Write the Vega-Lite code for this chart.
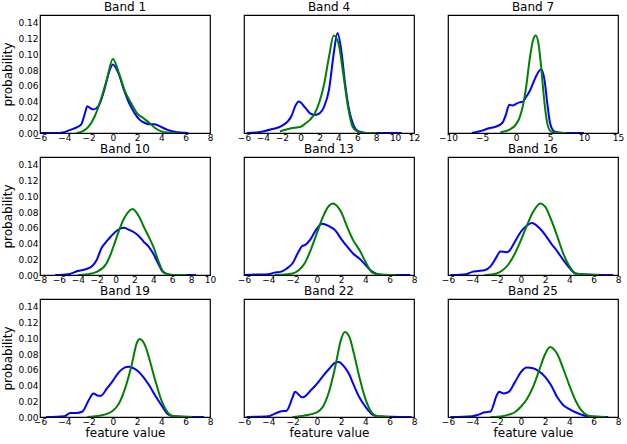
{
"$schema":"https://vega.github.io/schema/vega-lite/v6.json",
"padding":{"left":1,"top":0,"right":2,"bottom":2},
"background":"white",
"data":{"values":[
{"b":1,"g":"A","x":-6,"y":0},{"b":1,"g":"A","x":-4.5,"y":0},{"b":1,"g":"A","x":-4,"y":0.001},{"b":1,"g":"A","x":-3.5,"y":0.004},{"b":1,"g":"A","x":-3,"y":0.007},{"b":1,"g":"A","x":-2.6,"y":0.011},{"b":1,"g":"A","x":-2.3,"y":0.025},{"b":1,"g":"A","x":-2.1,"y":0.034},{"b":1,"g":"A","x":-1.8,"y":0.031},{"b":1,"g":"A","x":-1.6,"y":0.030},{"b":1,"g":"A","x":-1.2,"y":0.034},{"b":1,"g":"A","x":-0.7,"y":0.055},{"b":1,"g":"A","x":-0.3,"y":0.078},{"b":1,"g":"A","x":0,"y":0.087},{"b":1,"g":"A","x":0.4,"y":0.078},{"b":1,"g":"A","x":1,"y":0.051},{"b":1,"g":"A","x":1.4,"y":0.036},{"b":1,"g":"A","x":1.8,"y":0.025},{"b":1,"g":"A","x":2.2,"y":0.017},{"b":1,"g":"A","x":2.6,"y":0.013},{"b":1,"g":"A","x":3,"y":0.011},{"b":1,"g":"A","x":3.4,"y":0.011},{"b":1,"g":"A","x":3.8,"y":0.009},{"b":1,"g":"A","x":4.2,"y":0.006},{"b":1,"g":"A","x":4.5,"y":0.004},{"b":1,"g":"A","x":5,"y":0.002},{"b":1,"g":"A","x":5.5,"y":0.0005},{"b":1,"g":"A","x":6.2,"y":0},
{"b":1,"g":"B","x":-3,"y":0},{"b":1,"g":"B","x":-2.5,"y":0.002},{"b":1,"g":"B","x":-2,"y":0.008},{"b":1,"g":"B","x":-1.5,"y":0.021},{"b":1,"g":"B","x":-1,"y":0.042},{"b":1,"g":"B","x":-0.5,"y":0.068},{"b":1,"g":"B","x":0,"y":0.094},{"b":1,"g":"B","x":0.5,"y":0.076},{"b":1,"g":"B","x":1,"y":0.053},{"b":1,"g":"B","x":1.5,"y":0.038},{"b":1,"g":"B","x":2,"y":0.025},{"b":1,"g":"B","x":2.5,"y":0.019},{"b":1,"g":"B","x":3,"y":0.013},{"b":1,"g":"B","x":3.5,"y":0.006},{"b":1,"g":"B","x":4,"y":0.002},{"b":1,"g":"B","x":4.5,"y":0.0005},{"b":1,"g":"B","x":5.3,"y":0},
{"b":4,"g":"A","x":-5.7,"y":0},{"b":4,"g":"A","x":-4.5,"y":0.001},{"b":4,"g":"A","x":-4,"y":0.002},{"b":4,"g":"A","x":-3,"y":0.005},{"b":4,"g":"A","x":-2,"y":0.009},{"b":4,"g":"A","x":-1,"y":0.021},{"b":4,"g":"A","x":-0.5,"y":0.036},{"b":4,"g":"A","x":-0.2,"y":0.040},{"b":4,"g":"A","x":0.5,"y":0.032},{"b":4,"g":"A","x":1,"y":0.025},{"b":4,"g":"A","x":1.5,"y":0.023},{"b":4,"g":"A","x":2,"y":0.025},{"b":4,"g":"A","x":2.5,"y":0.034},{"b":4,"g":"A","x":3,"y":0.055},{"b":4,"g":"A","x":3.5,"y":0.101},{"b":4,"g":"A","x":3.9,"y":0.127},{"b":4,"g":"A","x":4.3,"y":0.105},{"b":4,"g":"A","x":4.7,"y":0.063},{"b":4,"g":"A","x":5,"y":0.038},{"b":4,"g":"A","x":5.5,"y":0.013},{"b":4,"g":"A","x":6,"y":0.003},{"b":4,"g":"A","x":6.5,"y":0.001},{"b":4,"g":"A","x":7,"y":0},{"b":4,"g":"A","x":10.7,"y":0},
{"b":4,"g":"B","x":-2.2,"y":0.002},{"b":4,"g":"B","x":-1,"y":0.006},{"b":4,"g":"B","x":0,"y":0.008},{"b":4,"g":"B","x":0.5,"y":0.012},{"b":4,"g":"B","x":1,"y":0.017},{"b":4,"g":"B","x":1.5,"y":0.025},{"b":4,"g":"B","x":2,"y":0.040},{"b":4,"g":"B","x":2.5,"y":0.063},{"b":4,"g":"B","x":3,"y":0.097},{"b":4,"g":"B","x":3.5,"y":0.124},{"b":4,"g":"B","x":4,"y":0.114},{"b":4,"g":"B","x":4.5,"y":0.076},{"b":4,"g":"B","x":5,"y":0.034},{"b":4,"g":"B","x":5.5,"y":0.008},{"b":4,"g":"B","x":6,"y":0.002},{"b":4,"g":"B","x":6.5,"y":0},{"b":4,"g":"B","x":8,"y":0},
{"b":7,"g":"A","x":-6.5,"y":0},{"b":7,"g":"A","x":-5,"y":0.003},{"b":7,"g":"A","x":-4,"y":0.006},{"b":7,"g":"A","x":-3,"y":0.008},{"b":7,"g":"A","x":-2,"y":0.013},{"b":7,"g":"A","x":-1.5,"y":0.023},{"b":7,"g":"A","x":-1,"y":0.036},{"b":7,"g":"A","x":-0.5,"y":0.035},{"b":7,"g":"A","x":0,"y":0.037},{"b":7,"g":"A","x":0.5,"y":0.039},{"b":7,"g":"A","x":1,"y":0.040},{"b":7,"g":"A","x":1.5,"y":0.046},{"b":7,"g":"A","x":2,"y":0.053},{"b":7,"g":"A","x":2.5,"y":0.063},{"b":7,"g":"A","x":3,"y":0.073},{"b":7,"g":"A","x":3.7,"y":0.081},{"b":7,"g":"A","x":4.2,"y":0.067},{"b":7,"g":"A","x":4.6,"y":0.038},{"b":7,"g":"A","x":5,"y":0.013},{"b":7,"g":"A","x":5.5,"y":0.003},{"b":7,"g":"A","x":6,"y":0.001},{"b":7,"g":"A","x":7,"y":0},{"b":7,"g":"A","x":10,"y":0},
{"b":7,"g":"B","x":-2.3,"y":0.001},{"b":7,"g":"B","x":-1,"y":0.004},{"b":7,"g":"B","x":0,"y":0.011},{"b":7,"g":"B","x":0.5,"y":0.019},{"b":7,"g":"B","x":1,"y":0.034},{"b":7,"g":"B","x":1.5,"y":0.059},{"b":7,"g":"B","x":2,"y":0.093},{"b":7,"g":"B","x":2.5,"y":0.118},{"b":7,"g":"B","x":2.9,"y":0.124},{"b":7,"g":"B","x":3.3,"y":0.114},{"b":7,"g":"B","x":3.7,"y":0.084},{"b":7,"g":"B","x":4.1,"y":0.046},{"b":7,"g":"B","x":4.5,"y":0.017},{"b":7,"g":"B","x":5,"y":0.003},{"b":7,"g":"B","x":5.5,"y":0.001},{"b":7,"g":"B","x":7.5,"y":0},
{"b":10,"g":"A","x":-6.4,"y":0},{"b":10,"g":"A","x":-5,"y":0.001},{"b":10,"g":"A","x":-4,"y":0.005},{"b":10,"g":"A","x":-3,"y":0.008},{"b":10,"g":"A","x":-2.5,"y":0.011},{"b":10,"g":"A","x":-2,"y":0.019},{"b":10,"g":"A","x":-1.5,"y":0.034},{"b":10,"g":"A","x":-1,"y":0.042},{"b":10,"g":"A","x":-0.5,"y":0.049},{"b":10,"g":"A","x":0,"y":0.055},{"b":10,"g":"A","x":0.5,"y":0.059},{"b":10,"g":"A","x":0.9,"y":0.060},{"b":10,"g":"A","x":1.5,"y":0.057},{"b":10,"g":"A","x":2,"y":0.054},{"b":10,"g":"A","x":2.5,"y":0.049},{"b":10,"g":"A","x":3,"y":0.042},{"b":10,"g":"A","x":3.5,"y":0.036},{"b":10,"g":"A","x":4,"y":0.027},{"b":10,"g":"A","x":4.5,"y":0.015},{"b":10,"g":"A","x":5,"y":0.004},{"b":10,"g":"A","x":5.5,"y":0.001},{"b":10,"g":"A","x":6,"y":0},{"b":10,"g":"A","x":8.5,"y":0},
{"b":10,"g":"B","x":-4,"y":0},{"b":10,"g":"B","x":-3,"y":0.001},{"b":10,"g":"B","x":-2,"y":0.004},{"b":10,"g":"B","x":-1,"y":0.014},{"b":10,"g":"B","x":-0.5,"y":0.027},{"b":10,"g":"B","x":0,"y":0.044},{"b":10,"g":"B","x":0.5,"y":0.061},{"b":10,"g":"B","x":1,"y":0.074},{"b":10,"g":"B","x":1.5,"y":0.082},{"b":10,"g":"B","x":1.8,"y":0.084},{"b":10,"g":"B","x":2.5,"y":0.074},{"b":10,"g":"B","x":3,"y":0.061},{"b":10,"g":"B","x":3.5,"y":0.049},{"b":10,"g":"B","x":4,"y":0.036},{"b":10,"g":"B","x":4.5,"y":0.019},{"b":10,"g":"B","x":5,"y":0.005},{"b":10,"g":"B","x":5.5,"y":0.001},{"b":10,"g":"B","x":6,"y":0},{"b":10,"g":"B","x":7.5,"y":0},
{"b":13,"g":"A","x":-6,"y":0},{"b":13,"g":"A","x":-5,"y":0.0005},{"b":13,"g":"A","x":-4,"y":0.001},{"b":13,"g":"A","x":-3.5,"y":0.003},{"b":13,"g":"A","x":-3,"y":0.004},{"b":13,"g":"A","x":-2.5,"y":0.008},{"b":13,"g":"A","x":-2,"y":0.015},{"b":13,"g":"A","x":-1.5,"y":0.030},{"b":13,"g":"A","x":-1.2,"y":0.037},{"b":13,"g":"A","x":-1,"y":0.038},{"b":13,"g":"A","x":-0.5,"y":0.046},{"b":13,"g":"A","x":0,"y":0.059},{"b":13,"g":"A","x":0.4,"y":0.065},{"b":13,"g":"A","x":1,"y":0.062},{"b":13,"g":"A","x":1.5,"y":0.057},{"b":13,"g":"A","x":2,"y":0.046},{"b":13,"g":"A","x":2.5,"y":0.036},{"b":13,"g":"A","x":3,"y":0.027},{"b":13,"g":"A","x":3.5,"y":0.021},{"b":13,"g":"A","x":4,"y":0.013},{"b":13,"g":"A","x":4.5,"y":0.005},{"b":13,"g":"A","x":5,"y":0.001},{"b":13,"g":"A","x":5.5,"y":0},{"b":13,"g":"A","x":7.7,"y":0},
{"b":13,"g":"B","x":-3.5,"y":0},{"b":13,"g":"B","x":-2,"y":0.002},{"b":13,"g":"B","x":-1.5,"y":0.006},{"b":13,"g":"B","x":-1,"y":0.015},{"b":13,"g":"B","x":-0.5,"y":0.032},{"b":13,"g":"B","x":0,"y":0.053},{"b":13,"g":"B","x":0.5,"y":0.074},{"b":13,"g":"B","x":1,"y":0.088},{"b":13,"g":"B","x":1.3,"y":0.091},{"b":13,"g":"B","x":2,"y":0.080},{"b":13,"g":"B","x":2.5,"y":0.061},{"b":13,"g":"B","x":3,"y":0.044},{"b":13,"g":"B","x":3.5,"y":0.032},{"b":13,"g":"B","x":4,"y":0.017},{"b":13,"g":"B","x":4.5,"y":0.004},{"b":13,"g":"B","x":5,"y":0.001},{"b":13,"g":"B","x":6.5,"y":0},
{"b":16,"g":"A","x":-5.8,"y":0},{"b":16,"g":"A","x":-4.5,"y":0.001},{"b":16,"g":"A","x":-4,"y":0.004},{"b":16,"g":"A","x":-3.5,"y":0.005},{"b":16,"g":"A","x":-3,"y":0.006},{"b":16,"g":"A","x":-2.5,"y":0.011},{"b":16,"g":"A","x":-2,"y":0.023},{"b":16,"g":"A","x":-1.7,"y":0.030},{"b":16,"g":"A","x":-1.2,"y":0.029},{"b":16,"g":"A","x":-1,"y":0.030},{"b":16,"g":"A","x":-0.5,"y":0.042},{"b":16,"g":"A","x":0,"y":0.055},{"b":16,"g":"A","x":0.5,"y":0.063},{"b":16,"g":"A","x":0.9,"y":0.066},{"b":16,"g":"A","x":1.5,"y":0.060},{"b":16,"g":"A","x":2,"y":0.051},{"b":16,"g":"A","x":2.5,"y":0.040},{"b":16,"g":"A","x":3,"y":0.030},{"b":16,"g":"A","x":3.5,"y":0.019},{"b":16,"g":"A","x":4,"y":0.009},{"b":16,"g":"A","x":4.5,"y":0.002},{"b":16,"g":"A","x":5,"y":0.001},{"b":16,"g":"A","x":7.6,"y":0},
{"b":16,"g":"B","x":-3,"y":0},{"b":16,"g":"B","x":-2,"y":0.002},{"b":16,"g":"B","x":-1.5,"y":0.006},{"b":16,"g":"B","x":-1,"y":0.014},{"b":16,"g":"B","x":-0.5,"y":0.027},{"b":16,"g":"B","x":0,"y":0.044},{"b":16,"g":"B","x":0.5,"y":0.063},{"b":16,"g":"B","x":1,"y":0.080},{"b":16,"g":"B","x":1.6,"y":0.091},{"b":16,"g":"B","x":2,"y":0.087},{"b":16,"g":"B","x":2.5,"y":0.070},{"b":16,"g":"B","x":3,"y":0.049},{"b":16,"g":"B","x":3.5,"y":0.027},{"b":16,"g":"B","x":4,"y":0.011},{"b":16,"g":"B","x":4.5,"y":0.002},{"b":16,"g":"B","x":5,"y":0.001},{"b":16,"g":"B","x":6.4,"y":0},
{"b":19,"g":"A","x":-5.5,"y":0},{"b":19,"g":"A","x":-4,"y":0.001},{"b":19,"g":"A","x":-3.5,"y":0.005},{"b":19,"g":"A","x":-3,"y":0.005},{"b":19,"g":"A","x":-2.5,"y":0.007},{"b":19,"g":"A","x":-2,"y":0.021},{"b":19,"g":"A","x":-1.6,"y":0.030},{"b":19,"g":"A","x":-1.2,"y":0.027},{"b":19,"g":"A","x":-1,"y":0.027},{"b":19,"g":"A","x":-0.5,"y":0.036},{"b":19,"g":"A","x":0,"y":0.046},{"b":19,"g":"A","x":0.5,"y":0.057},{"b":19,"g":"A","x":1,"y":0.063},{"b":19,"g":"A","x":1.3,"y":0.064},{"b":19,"g":"A","x":2,"y":0.059},{"b":19,"g":"A","x":2.5,"y":0.051},{"b":19,"g":"A","x":3,"y":0.040},{"b":19,"g":"A","x":3.5,"y":0.027},{"b":19,"g":"A","x":4,"y":0.015},{"b":19,"g":"A","x":4.5,"y":0.004},{"b":19,"g":"A","x":5,"y":0.001},{"b":19,"g":"A","x":7.5,"y":0},
{"b":19,"g":"B","x":-2.1,"y":0},{"b":19,"g":"B","x":-1,"y":0.002},{"b":19,"g":"B","x":-0.5,"y":0.004},{"b":19,"g":"B","x":0,"y":0.008},{"b":19,"g":"B","x":0.5,"y":0.017},{"b":19,"g":"B","x":1,"y":0.036},{"b":19,"g":"B","x":1.5,"y":0.063},{"b":19,"g":"B","x":2,"y":0.095},{"b":19,"g":"B","x":2.2,"y":0.099},{"b":19,"g":"B","x":2.7,"y":0.089},{"b":19,"g":"B","x":3,"y":0.074},{"b":19,"g":"B","x":3.5,"y":0.046},{"b":19,"g":"B","x":4,"y":0.021},{"b":19,"g":"B","x":4.5,"y":0.006},{"b":19,"g":"B","x":5,"y":0.001},{"b":19,"g":"B","x":6.5,"y":0},
{"b":22,"g":"A","x":-5.8,"y":0},{"b":22,"g":"A","x":-4,"y":0.001},{"b":22,"g":"A","x":-3.5,"y":0.004},{"b":22,"g":"A","x":-3,"y":0.007},{"b":22,"g":"A","x":-2.5,"y":0.008},{"b":22,"g":"A","x":-2,"y":0.025},{"b":22,"g":"A","x":-1.8,"y":0.032},{"b":22,"g":"A","x":-1.2,"y":0.025},{"b":22,"g":"A","x":-1,"y":0.026},{"b":22,"g":"A","x":-0.5,"y":0.034},{"b":22,"g":"A","x":0,"y":0.042},{"b":22,"g":"A","x":0.5,"y":0.052},{"b":22,"g":"A","x":1,"y":0.061},{"b":22,"g":"A","x":1.5,"y":0.069},{"b":22,"g":"A","x":1.8,"y":0.070},{"b":22,"g":"A","x":2.3,"y":0.063},{"b":22,"g":"A","x":2.7,"y":0.053},{"b":22,"g":"A","x":3,"y":0.042},{"b":22,"g":"A","x":3.5,"y":0.025},{"b":22,"g":"A","x":4,"y":0.013},{"b":22,"g":"A","x":4.5,"y":0.004},{"b":22,"g":"A","x":5,"y":0.001},{"b":22,"g":"A","x":7.8,"y":0},
{"b":22,"g":"B","x":-2,"y":0},{"b":22,"g":"B","x":-1,"y":0.002},{"b":22,"g":"B","x":0,"y":0.006},{"b":22,"g":"B","x":0.5,"y":0.013},{"b":22,"g":"B","x":1,"y":0.032},{"b":22,"g":"B","x":1.5,"y":0.063},{"b":22,"g":"B","x":2,"y":0.099},{"b":22,"g":"B","x":2.3,"y":0.108},{"b":22,"g":"B","x":2.7,"y":0.101},{"b":22,"g":"B","x":3,"y":0.084},{"b":22,"g":"B","x":3.5,"y":0.051},{"b":22,"g":"B","x":4,"y":0.023},{"b":22,"g":"B","x":4.5,"y":0.006},{"b":22,"g":"B","x":5,"y":0.001},{"b":22,"g":"B","x":6,"y":0},
{"b":25,"g":"A","x":-5.8,"y":0},{"b":25,"g":"A","x":-4,"y":0.001},{"b":25,"g":"A","x":-3.5,"y":0.003},{"b":25,"g":"A","x":-3,"y":0.006},{"b":25,"g":"A","x":-2.5,"y":0.007},{"b":25,"g":"A","x":-2,"y":0.027},{"b":25,"g":"A","x":-1.8,"y":0.032},{"b":25,"g":"A","x":-1.4,"y":0.030},{"b":25,"g":"A","x":-1,"y":0.032},{"b":25,"g":"A","x":-0.5,"y":0.044},{"b":25,"g":"A","x":0,"y":0.057},{"b":25,"g":"A","x":0.5,"y":0.063},{"b":25,"g":"A","x":1,"y":0.062},{"b":25,"g":"A","x":1.5,"y":0.058},{"b":25,"g":"A","x":2,"y":0.051},{"b":25,"g":"A","x":2.5,"y":0.040},{"b":25,"g":"A","x":3,"y":0.025},{"b":25,"g":"A","x":3.5,"y":0.015},{"b":25,"g":"A","x":4,"y":0.010},{"b":25,"g":"A","x":4.5,"y":0.006},{"b":25,"g":"A","x":5,"y":0.003},{"b":25,"g":"A","x":5.5,"y":0.001},{"b":25,"g":"A","x":7.2,"y":0},
{"b":25,"g":"B","x":-2.5,"y":0},{"b":25,"g":"B","x":-1.5,"y":0.001},{"b":25,"g":"B","x":-1,"y":0.003},{"b":25,"g":"B","x":-0.5,"y":0.006},{"b":25,"g":"B","x":0,"y":0.013},{"b":25,"g":"B","x":0.5,"y":0.023},{"b":25,"g":"B","x":1,"y":0.038},{"b":25,"g":"B","x":1.5,"y":0.059},{"b":25,"g":"B","x":2,"y":0.080},{"b":25,"g":"B","x":2.4,"y":0.089},{"b":25,"g":"B","x":3,"y":0.080},{"b":25,"g":"B","x":3.5,"y":0.061},{"b":25,"g":"B","x":4,"y":0.040},{"b":25,"g":"B","x":4.5,"y":0.021},{"b":25,"g":"B","x":5,"y":0.008},{"b":25,"g":"B","x":5.5,"y":0.002},{"b":25,"g":"B","x":6,"y":0.0005},{"b":25,"g":"B","x":7,"y":0}
]},
"columns":3,
"bounds":"flush",
"spacing":{"row":24,"column":34},
"concat":[
{"width":170,"height":118,"title":"Band 1","transform":[{"filter":"datum.b==1"}],"mark":{"type":"line","interpolate":"monotone","strokeWidth":2,"clip":true},
 "encoding":{"x":{"field":"x","type":"quantitative","scale":{"domain":[-6,8],"nice":false,"zero":false},"axis":{"values":[-6,-4,-2,0,2,4,6,8],"title":null}},
 "y":{"field":"y","type":"quantitative","scale":{"domain":[0,0.15],"nice":false},"axis":{"values":[0,0.02,0.04,0.06,0.08,0.1,0.12,0.14],"format":".2f","title":"probability"}},
 "color":{"field":"g","type":"nominal","scale":{"domain":["A","B"],"range":["#0000ff","#008000"]},"legend":null}}},
{"width":170,"height":118,"title":"Band 4","transform":[{"filter":"datum.b==4"}],"mark":{"type":"line","interpolate":"monotone","strokeWidth":2,"clip":true},
 "encoding":{"x":{"field":"x","type":"quantitative","scale":{"domain":[-6,12],"nice":false,"zero":false},"axis":{"values":[-6,-4,-2,0,2,4,6,8,10,12],"title":null}},
 "y":{"field":"y","type":"quantitative","scale":{"domain":[0,0.15],"nice":false},"axis":null},
 "color":{"field":"g","type":"nominal","scale":{"domain":["A","B"],"range":["#0000ff","#008000"]},"legend":null}}},
{"width":170,"height":118,"title":"Band 7","transform":[{"filter":"datum.b==7"}],"mark":{"type":"line","interpolate":"monotone","strokeWidth":2,"clip":true},
 "encoding":{"x":{"field":"x","type":"quantitative","scale":{"domain":[-10,15],"nice":false,"zero":false},"axis":{"values":[-10,-5,0,5,10,15],"title":null}},
 "y":{"field":"y","type":"quantitative","scale":{"domain":[0,0.15],"nice":false},"axis":null},
 "color":{"field":"g","type":"nominal","scale":{"domain":["A","B"],"range":["#0000ff","#008000"]},"legend":null}}},
{"width":170,"height":118,"title":"Band 10","transform":[{"filter":"datum.b==10"}],"mark":{"type":"line","interpolate":"monotone","strokeWidth":2,"clip":true},
 "encoding":{"x":{"field":"x","type":"quantitative","scale":{"domain":[-8,10],"nice":false,"zero":false},"axis":{"values":[-8,-6,-4,-2,0,2,4,6,8,10],"title":null}},
 "y":{"field":"y","type":"quantitative","scale":{"domain":[0,0.15],"nice":false},"axis":{"values":[0,0.02,0.04,0.06,0.08,0.1,0.12,0.14],"format":".2f","title":"probability"}},
 "color":{"field":"g","type":"nominal","scale":{"domain":["A","B"],"range":["#0000ff","#008000"]},"legend":null}}},
{"width":170,"height":118,"title":"Band 13","transform":[{"filter":"datum.b==13"}],"mark":{"type":"line","interpolate":"monotone","strokeWidth":2,"clip":true},
 "encoding":{"x":{"field":"x","type":"quantitative","scale":{"domain":[-6,8],"nice":false,"zero":false},"axis":{"values":[-6,-4,-2,0,2,4,6,8],"title":null}},
 "y":{"field":"y","type":"quantitative","scale":{"domain":[0,0.15],"nice":false},"axis":null},
 "color":{"field":"g","type":"nominal","scale":{"domain":["A","B"],"range":["#0000ff","#008000"]},"legend":null}}},
{"width":170,"height":118,"title":"Band 16","transform":[{"filter":"datum.b==16"}],"mark":{"type":"line","interpolate":"monotone","strokeWidth":2,"clip":true},
 "encoding":{"x":{"field":"x","type":"quantitative","scale":{"domain":[-6,8],"nice":false,"zero":false},"axis":{"values":[-6,-4,-2,0,2,4,6,8],"title":null}},
 "y":{"field":"y","type":"quantitative","scale":{"domain":[0,0.15],"nice":false},"axis":null},
 "color":{"field":"g","type":"nominal","scale":{"domain":["A","B"],"range":["#0000ff","#008000"]},"legend":null}}},
{"width":170,"height":118,"title":"Band 19","transform":[{"filter":"datum.b==19"}],"mark":{"type":"line","interpolate":"monotone","strokeWidth":2,"clip":true},
 "encoding":{"x":{"field":"x","type":"quantitative","scale":{"domain":[-6,8],"nice":false,"zero":false},"axis":{"values":[-6,-4,-2,0,2,4,6,8],"title":"feature value"}},
 "y":{"field":"y","type":"quantitative","scale":{"domain":[0,0.15],"nice":false},"axis":{"values":[0,0.02,0.04,0.06,0.08,0.1,0.12,0.14],"format":".2f","title":"probability"}},
 "color":{"field":"g","type":"nominal","scale":{"domain":["A","B"],"range":["#0000ff","#008000"]},"legend":null}}},
{"width":170,"height":118,"title":"Band 22","transform":[{"filter":"datum.b==22"}],"mark":{"type":"line","interpolate":"monotone","strokeWidth":2,"clip":true},
 "encoding":{"x":{"field":"x","type":"quantitative","scale":{"domain":[-6,8],"nice":false,"zero":false},"axis":{"values":[-6,-4,-2,0,2,4,6,8],"title":"feature value"}},
 "y":{"field":"y","type":"quantitative","scale":{"domain":[0,0.15],"nice":false},"axis":null},
 "color":{"field":"g","type":"nominal","scale":{"domain":["A","B"],"range":["#0000ff","#008000"]},"legend":null}}},
{"width":170,"height":118,"title":"Band 25","transform":[{"filter":"datum.b==25"}],"mark":{"type":"line","interpolate":"monotone","strokeWidth":2,"clip":true},
 "encoding":{"x":{"field":"x","type":"quantitative","scale":{"domain":[-6,8],"nice":false,"zero":false},"axis":{"values":[-6,-4,-2,0,2,4,6,8],"title":"feature value"}},
 "y":{"field":"y","type":"quantitative","scale":{"domain":[0,0.15],"nice":false},"axis":null},
 "color":{"field":"g","type":"nominal","scale":{"domain":["A","B"],"range":["#0000ff","#008000"]},"legend":null}}}
],
"config":{
 "font":"DejaVu Sans",
 "view":{"stroke":"#000000","strokeWidth":1.2},
 "axis":{"ticks":false,"domain":false,"grid":false,"labelFont":"DejaVu Sans","labelFontSize":9,"labelColor":"#000000","labelPadding":0,"labelOverlap":false,"labelFlush":false,"labelBound":false,"titleFont":"DejaVu Sans","titleFontSize":12,"titleFontWeight":"normal","titleColor":"#000000","titlePadding":1},
 "axisY":{"titlePadding":3,"labelPadding":2},
 "title":{"font":"DejaVu Sans","fontSize":12,"fontWeight":"normal","color":"#000000","offset":1}
}
}
